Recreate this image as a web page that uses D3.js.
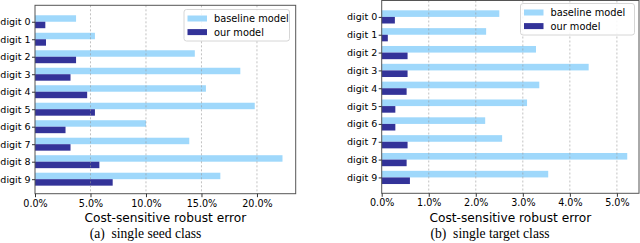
<!DOCTYPE html>
<html>
<head>
<meta charset="utf-8">
<style>
  body { margin: 0; background: #fff; }
  svg text { font-family: "DejaVu Sans", sans-serif; fill: #000; }
  .frame { fill: none; stroke: #555; stroke-width: 1px; }
  .grid line { stroke: #999; stroke-dasharray: 2,2; stroke-opacity: 0.6; }
</style>
</head>
<body>
<svg width="640" height="243"></svg>
<script src="https://d3js.org/d3.v7.min.js"></script>
<script>

// categories
var digits = ["digit 0", "digit 1", "digit 2", "digit 3", "digit 4",
              "digit 5", "digit 6", "digit 7", "digit 8", "digit 9"];

// (a) single seed class, robust error in %
var seedBaseline = [3.7, 5.4, 14.4, 18.5, 15.4, 19.8, 10.0, 13.9, 22.3, 16.7];
var seedOurs     = [0.93, 0.99, 3.7, 3.2, 4.7, 5.4, 2.75, 3.2, 5.8, 7.0];

// (b) single target class, robust error in %
var targetBaseline = [2.50, 2.22, 3.28, 4.40, 3.35, 3.09, 2.20, 2.56, 5.22, 3.54];
var targetOurs     = [0.28, 0.13, 0.55, 0.55, 0.53, 0.29, 0.29, 0.55, 0.53, 0.60];

var seedTicks = [0, 5, 10, 15, 20];
var targetTicks = [0, 1, 2, 3, 4, 5];

var seriesNames = ["baseline model", "our model"];
var lightBlue = "#9fd8fb";
var darkBlue = "#333399";

var svg = d3.select("svg");

// draws one sub-chart
function drawPanel(opt) {
  var g = svg.append("g");

  var x = d3.scaleLinear().domain([0, opt.xmax]).range([opt.left, opt.right]);
  var y = d3.scaleLinear().domain(opt.ydomain).range([opt.top, opt.bottom]);
  var barH = 0.37;

  // baseline bars sit just above the tick, ours just below
  g.selectAll(".base")
    .data(opt.baseline)
    .enter().append("rect")
    .attr("x", x(0))
    .attr("y", function(d, i) { return y(i - barH); })
    .attr("width", function(d) { return x(d) - x(0); })
    .attr("height", y(barH) - y(0))
    .style("fill", lightBlue);

  g.selectAll(".ours")
    .data(opt.ours)
    .enter().append("rect")
    .attr("x", x(0))
    .attr("y", function(d, i) { return y(i); })
    .attr("width", function(d) { return x(d) - x(0); })
    .attr("height", y(barH) - y(0))
    .style("fill", darkBlue);

  // dashed vertical grid
  g.append("g").attr("class", "grid")
    .selectAll("line")
    .data(opt.ticks.slice(1))
    .enter().append("line")
    .attr("x1", function(d) { return x(d); })
    .attr("x2", function(d) { return x(d); })
    .attr("y1", opt.top)
    .attr("y2", opt.bottom);

  g.append("rect")
    .attr("class", "frame")
    .attr("x", opt.left)
    .attr("y", opt.top)
    .attr("width", opt.right - opt.left)
    .attr("height", opt.bottom - opt.top);

  var xAxis = d3.axisBottom(x)
    .tickValues(opt.ticks)
    .tickSize(3.5)
    .tickPadding(2.5)
    .tickFormat(function(d) { return d3.format(".1f")(d) + "%"; });

  var xa = g.append("g")
    .attr("transform", "translate(0," + opt.bottom + ")")
    .call(xAxis);

  var yAxis = d3.axisLeft(y)
    .tickValues(d3.range(digits.length))
    .tickSize(3)
    .tickPadding(1.5)
    .tickFormat(function(d) { return digits[d]; });

  var ya = g.append("g")
    .attr("transform", "translate(" + opt.left + ",0)")
    .call(yAxis);

  [xa, ya].forEach(function(a) {
    a.select(".domain").remove();
    a.selectAll(".tick line").attr("stroke", "#333");
    a.selectAll("text").attr("fill", "#000");
  });
  xa.selectAll("text").style("font-size", "9.6px");
  ya.selectAll("text").style("font-size", "9.5px");

  g.append("text")
    .attr("x", (opt.left + opt.right) / 2)
    .attr("y", 222)
    .attr("text-anchor", "middle")
    .style("font-size", "12.2px")
    .text("Cost-sensitive robust error");

  g.append("text")
    .attr("x", opt.captionX)
    .attr("y", 238)
    .attr("text-anchor", "middle")
    .style("font-size", "13.6px")
    .style("font-family", "'Liberation Serif', serif")
    .attr("xml:space", "preserve")
    .text(opt.caption);

  // legend
  var lg = g.append("g").attr("transform", "translate(" + opt.legendX + "," + opt.legendY + ")");
  lg.append("rect")
    .attr("width", opt.legendW)
    .attr("height", 31.5)
    .attr("rx", 2.5)
    .style("fill", "#fff")
    .style("fill-opacity", 0.85)
    .style("stroke", "#ccc")
    .style("stroke-width", 0.8);

  var colours = [lightBlue, darkBlue];
  seriesNames.forEach(function(name, i) {
    lg.append("rect")
      .attr("x", 3.5)
      .attr("y", 6 + i * 13.6)
      .attr("width", 19.5)
      .attr("height", 6)
      .style("fill", colours[i]);
    lg.append("text")
      .attr("x", 30)
      .attr("y", 9 + i * 13.6)
      .attr("dy", "0.35em")
      .style("font-size", "9.8px")
      .text(name);
  });
}

drawPanel({
  baseline: seedBaseline,
  ours: seedOurs,
  ticks: seedTicks,
  xmax: 23.49,
  left: 35, right: 295.7, top: 5.3, bottom: 193.7,
  ydomain: [-0.94, 9.83],
  legendX: 184, legendY: 9.5, legendW: 105.5,
  caption: "(a)  single seed class",
  captionX: 145.5
});

drawPanel({
  baseline: targetBaseline,
  ours: targetOurs,
  ticks: targetTicks,
  xmax: 5.47,
  left: 381.7, right: 639, top: 0.5, bottom: 193.3,
  ydomain: [-0.92, 9.89],
  legendX: 520.5, legendY: 3.5, legendW: 114,
  caption: "(b)  single target class",
  captionX: 490
});

</script>
</body>
</html>
